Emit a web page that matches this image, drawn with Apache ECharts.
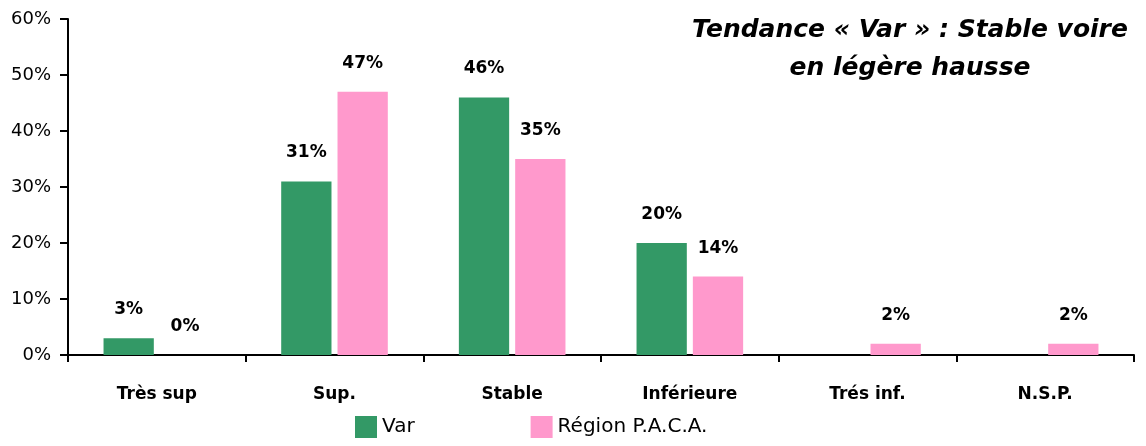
<!DOCTYPE html>
<html><head><meta charset="utf-8">
<script src="https://cdn.jsdelivr.net/npm/echarts@6/dist/echarts.min.js"></script>
<style>html,body{margin:0;padding:0;background:#fff}#c{width:1146px;height:446px}</style>
</head><body><div id="c"></div>
<script>
const categories = ['Très sup', 'Sup.', 'Stable', 'Inférieure', 'Trés inf.', 'N.S.P.'];
const varValues = [3, 31, 46, 20, null, null];
const pacaValues = [0, 47, 35, 14, 2, 2];
const seriesNames = ['Var', 'Région P.A.C.A.'];
const titleText = 'Tendance « Var » : Stable voire\nen légère hausse';
const FONT = '"DejaVu Sans", sans-serif';

const chart = echarts.init(document.getElementById('c'));
const labelStyle = {
  show: true, position: 'top', distance: 20,
  formatter: p => p.value + '%',
  fontFamily: FONT, fontWeight: 'bold', fontSize: 17, color: '#000'
};
chart.setOption({
  animation: false,
  title: {
    text: titleText, left: 905, top: 6, textAlign: 'center',
    textStyle: { fontFamily: FONT, fontStyle: 'italic', fontWeight: 'bold', fontSize: 25, lineHeight: 38, color: '#000' }
  },
  legend: {
    bottom: 3, left: 350, itemWidth: 22, itemHeight: 22, itemGap: 116,
    icon: 'rect',
    textStyle: { fontFamily: FONT, fontSize: 20, color: '#000', padding: [0, 0, 0, 0] },
    data: seriesNames
  },
  grid: { left: 68, right: 12, top: 19, bottom: 91 },
  xAxis: {
    type: 'category', data: categories,
    axisLine: { lineStyle: { color: '#000', width: 2 } },
    axisTick: { show: true, length: 7, lineStyle: { color: '#000', width: 2 } },
    axisLabel: { margin: 31, fontFamily: FONT, fontWeight: 'bold', fontSize: 17, color: '#000' }
  },
  yAxis: {
    type: 'value', min: 0, max: 60, interval: 10,
    axisLine: { show: true, lineStyle: { color: '#000', width: 2 } },
    axisTick: { show: true, length: 8, lineStyle: { color: '#000', width: 2 } },
    splitLine: { show: false },
    axisLabel: { formatter: '{value}%', fontFamily: FONT, fontSize: 18, color: '#000', margin: 17 }
  },
  series: [
    { name: seriesNames[0], type: 'bar', data: varValues, barGap: '12%', barCategoryGap: '40%',
      itemStyle: { color: '#339966' }, label: labelStyle },
    { name: seriesNames[1], type: 'bar', data: pacaValues,
      itemStyle: { color: '#FF99CC' }, label: labelStyle }
  ]
});
</script></body></html>
